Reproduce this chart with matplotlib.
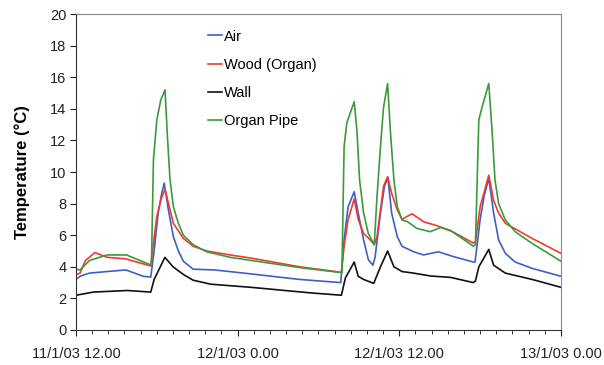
import numpy as np
import matplotlib
matplotlib.use("Agg")
import matplotlib.pyplot as plt
from matplotlib.ticker import MultipleLocator

plt.rcParams['font.family'] = ['Liberation Sans', 'DejaVu Sans']

# hours since 11/1/03 12.00
air_h = [0, 0.3, 1.0, 2.3, 3.7, 5.0, 5.55, 5.8, 6.1, 6.35, 6.55, 6.86, 7.23, 7.6, 7.97, 8.7, 10.3,
         13.0, 16.6, 19.65, 19.9, 20.2, 20.65, 20.95, 21.35, 21.7, 22.04, 22.2, 22.6, 22.9, 23.15,
         23.43, 23.85, 24.2, 25.06, 25.8, 26.9, 28.0, 29.5, 29.62, 30.0, 30.3, 30.64, 31.0, 31.37,
         31.87, 32.6, 33.86, 36.0]
air_t = [3.2, 3.4, 3.6, 3.7, 3.8, 3.4, 3.35, 5.0, 7.4, 8.6, 9.3, 7.6, 5.9, 5.0, 4.35, 3.85, 3.8,
         3.55, 3.2, 3.0, 5.7, 7.8, 8.75, 7.4, 5.7, 4.45, 4.1, 4.6, 7.4, 9.1, 9.65,
         7.4, 5.9, 5.3, 4.95, 4.75, 4.95, 4.65, 4.3, 4.3, 7.0, 8.5, 9.6, 7.4, 5.7,
         4.85, 4.3, 3.9, 3.4]

wood_h = [0, 0.3, 0.7, 1.4, 2.3, 3.7, 5.55, 5.75, 6.0, 6.36, 6.61, 6.98, 7.23, 7.97, 8.7, 9.7,
          11.44, 13.0, 16.6, 19.7, 19.9, 20.2, 20.65, 20.95, 21.35, 21.85, 22.14, 22.34, 22.6,
          22.83, 23.13, 23.43, 23.85, 24.2, 24.6, 24.94, 25.3, 25.8, 26.8, 28.0, 29.5, 29.65,
          30.0, 30.64, 31.0, 31.37, 31.87, 32.6, 33.86, 36.0]
wood_t = [3.5, 3.6, 4.4, 4.9, 4.6, 4.5, 4.05, 5.5, 7.2, 8.4, 8.9, 7.6, 6.75, 5.8, 5.3, 5.0,
          4.75, 4.55, 4.0, 3.65, 5.3, 7.0, 8.3, 7.0, 6.1, 5.7, 5.4, 5.9, 7.6,
          9.1, 9.7, 8.65, 7.6, 7.0, 7.2, 7.35, 7.15, 6.85, 6.6, 6.2, 5.5, 5.6,
          7.8, 9.8, 8.2, 7.4, 6.75, 6.4, 5.8, 4.85]

wall_h = [0, 1.3, 3.8, 5.55, 5.8, 6.2, 6.6, 7.2, 8.0, 8.7, 10.0, 13.0, 17.4, 19.7, 20.0, 20.65,
          20.95, 21.35, 22.1, 22.6, 23.13, 23.6, 24.2, 25.06, 26.3, 27.8, 29.5, 29.65, 29.9,
          30.64, 31.0, 31.87, 33.86, 36.0]
wall_t = [2.2, 2.4, 2.5, 2.4, 3.2, 3.9, 4.6, 4.0, 3.5, 3.15, 2.9, 2.7, 2.35, 2.2, 3.3, 4.3,
          3.4, 3.2, 2.95, 4.0, 5.0, 4.0, 3.7, 3.6, 3.42, 3.33, 3.0, 3.1, 4.0,
          5.1, 4.1, 3.6, 3.2, 2.7]

pipe_h = [0, 0.3, 1.0, 2.3, 3.75, 5.6, 5.75, 6.0, 6.29, 6.61, 6.79, 6.98, 7.23, 7.6, 7.97, 8.7,
          9.7, 11.44, 16.6, 19.74, 19.9, 20.1, 20.65, 20.85, 21.05, 21.35, 21.7, 22.14, 22.34,
          22.6, 22.83, 23.13, 23.33, 23.6, 23.85, 24.2, 24.6, 25.3, 26.3, 27.1, 27.8, 29.5,
          29.65, 29.9, 30.14, 30.64, 30.88, 31.1, 31.37, 31.87, 32.6, 33.86, 36.0]
pipe_t = [3.85, 3.8, 4.4, 4.75, 4.75, 4.1, 10.8, 13.3, 14.55, 15.2, 12.2, 9.5, 7.8, 6.75, 6.0, 5.4,
          4.95, 4.6, 3.95, 3.63, 11.6, 13.1, 14.45, 12.66, 9.5, 7.4, 6.1, 5.4, 8.4,
          11.6, 14.1, 15.6, 12.66, 9.5, 7.8, 6.96, 6.86, 6.43, 6.22, 6.5, 6.3, 5.3,
          5.4, 13.3, 14.1, 15.6, 12.66, 9.5, 8.0, 6.96, 6.22, 5.48, 4.35]

tick_hours = [0, 12, 24, 36]
tick_labels = ["11/1/03 12.00", "12/1/03 0.00", "12/1/03 12.00", "13/1/03 0.00"]

fig = plt.figure(figsize=(6.04, 3.65), dpi=100)
ax = fig.add_axes([0.1258, 0.0959, 0.803, 0.8657])

ax.plot(air_h, air_t, color="#3f5fc4", lw=1.2, label="Air")
ax.plot(wood_h, wood_t, color="#f03a32", lw=1.2, label="Wood (Organ)")
ax.plot(wall_h, wall_t, color="#111111", lw=1.2, label="Wall")
ax.plot(pipe_h, pipe_t, color="#3b9a3b", lw=1.2, label="Organ Pipe")

ax.set_xlim(0, 36)
ax.set_ylim(0, 20)
ax.set_yticks(range(0, 21, 2))
ax.set_xticks(tick_hours)
ax.set_xticklabels(tick_labels)
ax.xaxis.set_minor_locator(MultipleLocator(1.2))
ax.tick_params(axis="both", which="both", direction="out", labelsize=10.5, colors="#222222")
ax.tick_params(axis="x", which="major", length=4, pad=8)
ax.tick_params(axis="x", which="minor", length=3)
ax.tick_params(axis="y", length=4, pad=3)
for side in ["top", "right"]:
    ax.spines[side].set_color("#888888")
for side in ["left", "bottom"]:
    ax.spines[side].set_color("#333333")

ax.set_ylabel("Temperature (\u00b0C)", fontsize=12, fontweight="bold", labelpad=14)

ax.legend(loc="upper left", bbox_to_anchor=(0.345, 0.919), bbox_transform=fig.transFigure,
          frameon=False, fontsize=10.5, handlelength=0.9, handletextpad=0.2,
          labelspacing=0.98, borderpad=0, borderaxespad=0)

fig.savefig("out.png", dpi=100)
